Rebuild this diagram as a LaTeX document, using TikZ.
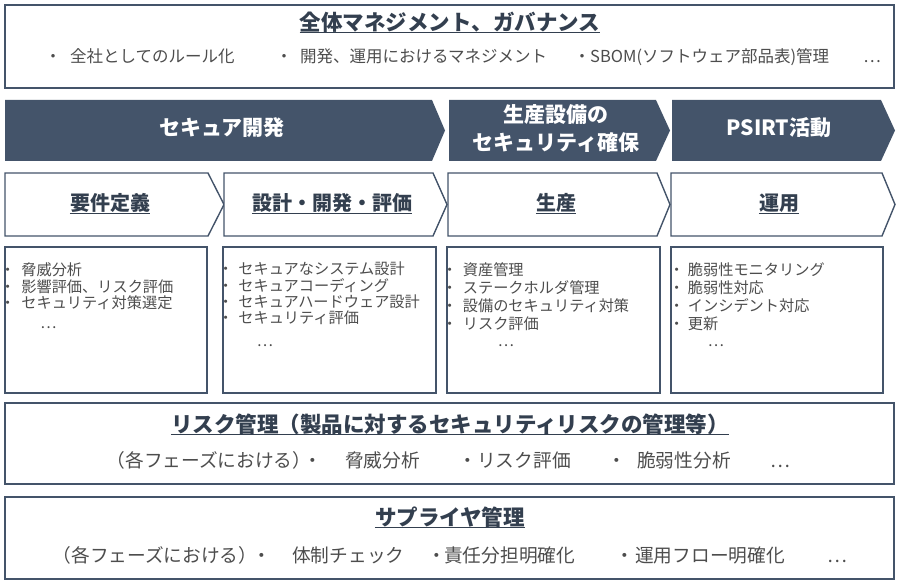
\documentclass[tikz,border=0pt]{standalone}
\usepackage{fontspec}
\setmainfont{Noto Sans CJK JP}
\definecolor{dk}{HTML}{44546A}
\definecolor{titlec}{HTML}{333F4F}
\definecolor{txtc}{HTML}{4D4D4D}
\begin{document}
\begin{tikzpicture}[x=1pt,y=-1pt,
  frame/.style={draw=dk, line width=1.4pt, fill=white, line join=miter},
  darkchev/.style={fill=dk, draw=none},
  titletext/.style={font=\fontsize{21.5}{24}\selectfont\bfseries, text=titlec, inner sep=0pt, text height=0.88em, text depth=0.12em, yshift=-3.5pt},
  phasetext/.style={font=\fontsize{20}{24}\selectfont\bfseries, text=titlec, inner sep=0pt, text height=0.88em, text depth=0.12em, yshift=-3pt},
  bandtext/.style={font=\fontsize{21}{28}\selectfont\bfseries, text=white, inner sep=0pt, align=center},
  ul/.style={draw=titlec, line width=1.3pt},
  topitem/.style={font=\fontsize{16.5}{18}\selectfont, text=txtc, inner sep=0pt, text height=0.88em, text depth=0.12em, yshift=-3.5pt},
  botitem/.style={font=\fontsize{18.7}{20}\selectfont, text=txtc, inner sep=0pt, text height=0.88em, text depth=0.12em, yshift=-3.5pt},
  listitem/.style={font=\fontsize{15.2}{17}\selectfont, text=txtc, inner sep=0pt, text height=0.88em, text depth=0.12em, anchor=west, yshift=-3pt},
]
\useasboundingbox (0,0) rectangle (900,585);

% ---------- top box ----------
\draw[frame] (5,5) rectangle (894,88);
\node[titletext] (t0) at (450,23) {全体マネジメント、ガバナンス};
\draw[ul] ([yshift=-2.5pt]t0.base west) -- ([yshift=-2.5pt]t0.base east);
\node[topitem] (tb1) at (53,55) {・};
\node[topitem, anchor=west] (ti1) at (70,55) {全社としてのルール化};
\node[topitem] (tb2) at (284,55) {・};
\node[topitem, anchor=west] (ti2) at (300,55) {開発、運用におけるマネジメント};
\node[topitem] (tb3) at (582,55) {・};
\node[topitem, anchor=west] (ti3) at (590,55) {SBOM(ソフトウェア部品表)管理};
\node[topitem] (td) at (872,55) {…};

% ---------- dark band ----------
\fill[darkchev] (5,100) -- (432,100) -- (445,130.5) -- (432,161) -- (5,161) -- cycle;
\fill[darkchev] (449,100) -- (656,100) -- (670,130.5) -- (656,161) -- (449,161) -- cycle;
\fill[darkchev] (672,100) -- (881,100) -- (895,130.5) -- (881,161) -- (672,161) -- cycle;
\node[bandtext] (d1) at (222,128) {セキュア開発};
\node[bandtext] (d2) at (556,129) {生産設備の\\セキュリティ確保};
\node[bandtext] (d3) at (779,128) {PSIRT活動};

% ---------- phase chevrons ----------
\draw[frame] (5,173) -- (208,173) -- (224,204.5) -- (208,236) -- (5,236) -- cycle;
\draw[frame] (224,173) -- (433,173) -- (447,204.5) -- (433,236) -- (224,236) -- cycle;
\draw[frame] (448,173) -- (657,173) -- (670,204.5) -- (657,236) -- (448,236) -- cycle;
\draw[frame] (671,173) -- (882,173) -- (895,204.5) -- (882,236) -- (671,236) -- cycle;
\node[phasetext] (p1) at (110,204) {要件定義};
\node[phasetext] (p2) at (332,204) {設計・開発・評価};
\node[phasetext] (p3) at (556,204) {生産};
\node[phasetext] (p4) at (779,204) {運用};
\foreach \p in {p1,p2,p3,p4}
  \draw[ul] ([yshift=-2.5pt]\p.base west) -- ([yshift=-2.5pt]\p.base east);

% ---------- detail boxes ----------
\draw[frame] (5,247) rectangle (207,393);
\draw[frame] (223,247) rectangle (436,393);
\draw[frame] (447,247) rectangle (660,393);
\draw[frame] (671,247) rectangle (883,393);

\foreach \t [count=\i from 0] in {脅威分析, 影響評価、リスク評価, セキュリティ対策選定}
  \node[listitem] (a\i) at (0,269+\i*16.6) {・\hspace{6pt}\t};
\node[listitem, anchor=center] (ad) at (48.5,322) {…};

\foreach \t [count=\i from 0] in {セキュアなシステム設計, セキュアコーディング, セキュアハードウェア設計, セキュリティ評価}
  \node[listitem] (b\i) at (218,268+\i*16.4) {・\hspace{5pt}\t};
\node[listitem, anchor=center] (bd) at (265,340) {…};

\foreach \t [count=\i from 0] in {資産管理, ステークホルダ管理, 設備のセキュリティ対策, リスク評価}
  \node[listitem] (c\i) at (442,269+\i*18) {・\hspace{5.5pt}\t};
\node[listitem, anchor=center] (cd) at (506,340) {…};

\foreach \t [count=\i from 0] in {脆弱性モニタリング, 脆弱性対応, インシデント対応, 更新}
  \node[listitem] (e\i) at (669,269+\i*18) {・\hspace{3.5pt}\t};
\node[listitem, anchor=center] (ed) at (716,340) {…};

% ---------- risk management ----------
\draw[frame] (5,403) rectangle (894,484);
\node[titletext] (t1) at (450,425) {リスク管理（製品に対するセキュリティリスクの管理等）};
\draw[ul] ([yshift=-2.5pt]t1.base west) -- ([yshift=-2.5pt]t1.base east);
\node[botitem] (r0) at (209,460) {（各フェーズにおける）};
\node[botitem] (rb1) at (313,460) {・};
\node[botitem, anchor=west] (r1) at (345,460) {脅威分析};
\node[botitem] (rb2) at (468,460) {・};
\node[botitem, anchor=west] (r2) at (477,460) {リスク評価};
\node[botitem] (rb3) at (617,460) {・};
\node[botitem, anchor=west] (r3) at (637,460) {脆弱性分析};
\node[botitem] (rd) at (780,460) {…};

% ---------- supplier management ----------
\draw[frame] (5,497) rectangle (894,579);
\node[titletext] (t2) at (450,518) {サプライヤ管理};
\draw[ul] ([yshift=-2.5pt]t2.base west) -- ([yshift=-2.5pt]t2.base east);
\node[botitem] (s0) at (155,555) {（各フェーズにおける）};
\node[botitem] (sb1) at (262,555) {・};
\node[botitem, anchor=west] (s1) at (292,555) {体制チェック};
\node[botitem] (sb2) at (437,555) {・};
\node[botitem, anchor=west] (s2) at (444,555) {責任分担明確化};
\node[botitem] (sb3) at (625,555) {・};
\node[botitem, anchor=west] (s3) at (635,555) {運用フロー明確化};
\node[botitem] (sd) at (837,555) {…};
\end{tikzpicture}
\end{document}
